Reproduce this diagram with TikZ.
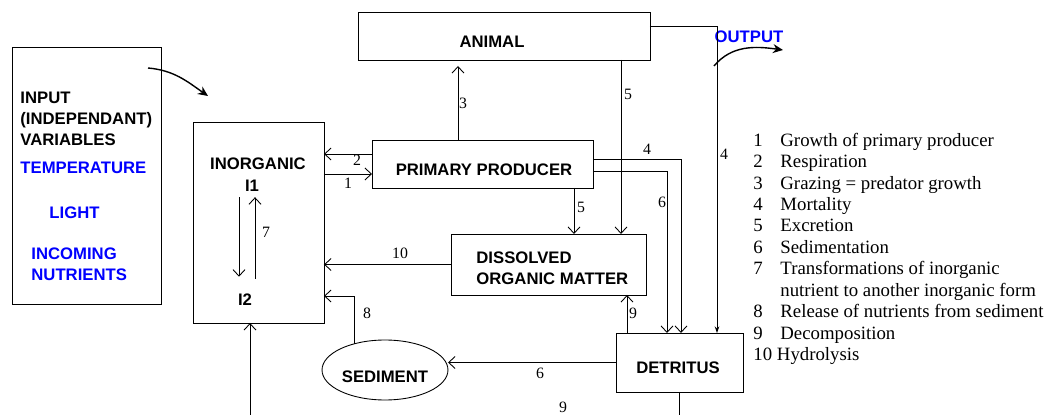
\documentclass[tikz,border=0pt]{standalone}
\usepackage{fontspec}
\setmainfont{Liberation Serif}
\setsansfont{Liberation Sans}
\usepackage{xcolor}
\usetikzlibrary{arrows.meta, positioning, calc, shapes.geometric}
\definecolor{inblue}{HTML}{0000FF}

\begin{document}
\begin{tikzpicture}[
  x=0.02cm, y=-0.02cm,
  line width=0.5pt,
  pool/.style={rectangle, draw, line width=0.5pt, inner sep=0pt, outer sep=0pt},
  lbl/.style={font=\sffamily\bfseries\fontsize{9.5}{12}\selectfont, inner sep=0pt, align=left},
  bluelbl/.style={lbl, text=inblue},
  num/.style={font=\fontsize{9}{10}\selectfont, inner sep=0pt},
  flow/.style={-{Straight Barb[length=1.3mm, width=2.4mm]}, line width=0.5pt},
  tinyflow/.style={-{Stealth[length=1.3mm, width=0.9mm]}, line width=0.5pt},
  swoop/.style={-{Stealth[length=2mm, width=1.8mm]}, line width=0.8pt}
]
\useasboundingbox (0,0) rectangle (1052,415);
\clip (0,0) rectangle (1052,415);

% input variables
\node[pool, minimum width=2.98cm, minimum height=5.14cm] (input) at (86.5,175.5) {};
\node[lbl, anchor=west] (inputtxt) at (20,119) {INPUT\\(INDEPENDANT)\\VARIABLES};
\node[bluelbl, anchor=west] (temp) at (20,168) {TEMPERATURE};
\node[bluelbl, anchor=west] (light) at (49,213) {LIGHT};
\node[bluelbl, anchor=west] (incoming) at (31,264.5) {INCOMING\\NUTRIENTS};
\coordinate (inA) at (148,68);
\coordinate (inB) at (208,96);
\draw[swoop] (inA) to[out=-5, in=145] (inB);

% pools
\node[pool, minimum width=2.62cm, minimum height=4.02cm] (inorg) at (258.5,222.5) {};
\node[lbl] (inorgtxt) at (258,164) {INORGANIC};
\node[lbl] (i1) at (252,186) {I1};
\node[lbl] (i2) at (245,300) {I2};
\node[pool, minimum width=5.84cm, minimum height=0.96cm,
      label={[lbl, xshift=-0.24cm, yshift=-0.12cm]center:ANIMAL}] (animal) at (504,36) {};
\node[pool, minimum width=4.42cm, minimum height=0.96cm,
      label={[lbl, xshift=0.03cm, yshift=-0.12cm]center:PRIMARY PRODUCER}] (pp) at (482.5,164) {};
\node[pool, minimum width=3.9cm, minimum height=1.22cm] (dom) at (548.5,264.5) {};
\node[lbl, anchor=west] (domtxt) at (476,268.5) {DISSOLVED\\ORGANIC MATTER};
\node[pool, minimum width=2.54cm, minimum height=1.18cm,
      label={[lbl, xshift=-0.03cm, yshift=-0.11cm]center:DETRITUS}] (det) at (679.5,362.5) {};
\node[ellipse, draw, line width=0.5pt, inner sep=0pt, outer sep=0pt,
      minimum width=2.52cm, minimum height=1.2cm,
      label={[lbl, yshift=-0.14cm]center:SEDIMENT}] (sed) at (385,370) {};
\node[bluelbl] (output) at (749,37) {OUTPUT};

% 7: inorganic transformations
\draw[flow, shorten <=0.1cm, shorten >=0.34cm] (i1.south -| 239,0) -- (i2.north -| 239,0);
\draw[flow, shorten <=0.3cm, shorten >=0.1cm] (i2.north -| 255,0) -- (i1.south -| 255,0);
\node[num] (lab7) at (266,232) {7};

% 1 and 2
\draw[flow] (inorg.east |- 0,174) -- (pp.west |- 0,174);
\node[num] (lab1) at (348,183) {1};
\draw[flow] (pp.west |- 0,154) -- (inorg.east |- 0,154);
\node[num] (lab2) at (357,160) {2};

% 3: grazing
\draw[flow, shorten >=0.12cm] (pp.north -| 458,0) -- (animal.south -| 458,0);
\node[num] (lab3) at (463,103) {3};

% 5: excretion
\draw[flow] (pp.south -| 574,0) -- (dom.north -| 574,0);
\node[num] (lab5a) at (581,207) {5};
\draw[flow] (animal.south -| 621,0) -- (dom.north -| 621,0);
\node[num] (lab5b) at (628,94) {5};

% 4 and 6 from primary producer
\draw[flow] (pp.east |- 0,159) -| (det.north -| 681,0);
\node[num] (lab4a) at (647,149) {4};
\draw[flow] (pp.east |- 0,171) -| (det.north -| 667,0);
\node[num] (lab6a) at (662,202) {6};

% 4 from animal
\draw[tinyflow] (animal.east |- 0,26) -| (det.north -| 717,0);
\node[num] (lab4b) at (724,154) {4};

% 10, 8, 9, 6
\draw[flow] (dom.west) -- (inorg.east |- dom.west);
\node[num] (lab10) at (400,253) {10};
\draw[flow] (sed.139) |- (inorg.east |- 0,296);
\node[num] (lab8) at (367,313) {8};
\draw[flow] (det.north -| 627,0) -- (dom.south -| 627,0);
\node[num] (lab9a) at (633,313) {9};
\draw[flow] (det.west) -- (sed.east |- det.west);
\node[num] (lab6b) at (540,373) {6};

% 9: decomposition back to inorganic (runs below the frame)
\draw[flow] (det.south) -- (det.south |- 0,440) -| (inorg.south -| 250,0);
\node[num] (lab9b) at (563,407) {9};

% output
\coordinate (outA) at (714,66);
\coordinate (outB) at (783,50);
\draw[swoop] (outA) to[out=50, in=172] (outB);

% legend
\node[align=left, inner sep=0pt, anchor=north west,
      font=\fontsize{10.7}{12.2}\selectfont] (legend) at (753,132.5) {%
  \makebox[0.54cm][l]{1}Growth of primary producer\\
  \makebox[0.54cm][l]{2}Respiration\\
  \makebox[0.54cm][l]{3}Grazing = predator growth\\
  \makebox[0.54cm][l]{4}Mortality\\
  \makebox[0.54cm][l]{5}Excretion\\
  \makebox[0.54cm][l]{6}Sedimentation\\
  \makebox[0.54cm][l]{7}Transformations of inorganic\\
  \makebox[0.54cm][l]{}nutrient to another inorganic form\\
  \makebox[0.54cm][l]{8}Release of nutrients from sediment\\
  \makebox[0.54cm][l]{9}Decomposition\\
  10 Hydrolysis};

\end{tikzpicture}
\end{document}
